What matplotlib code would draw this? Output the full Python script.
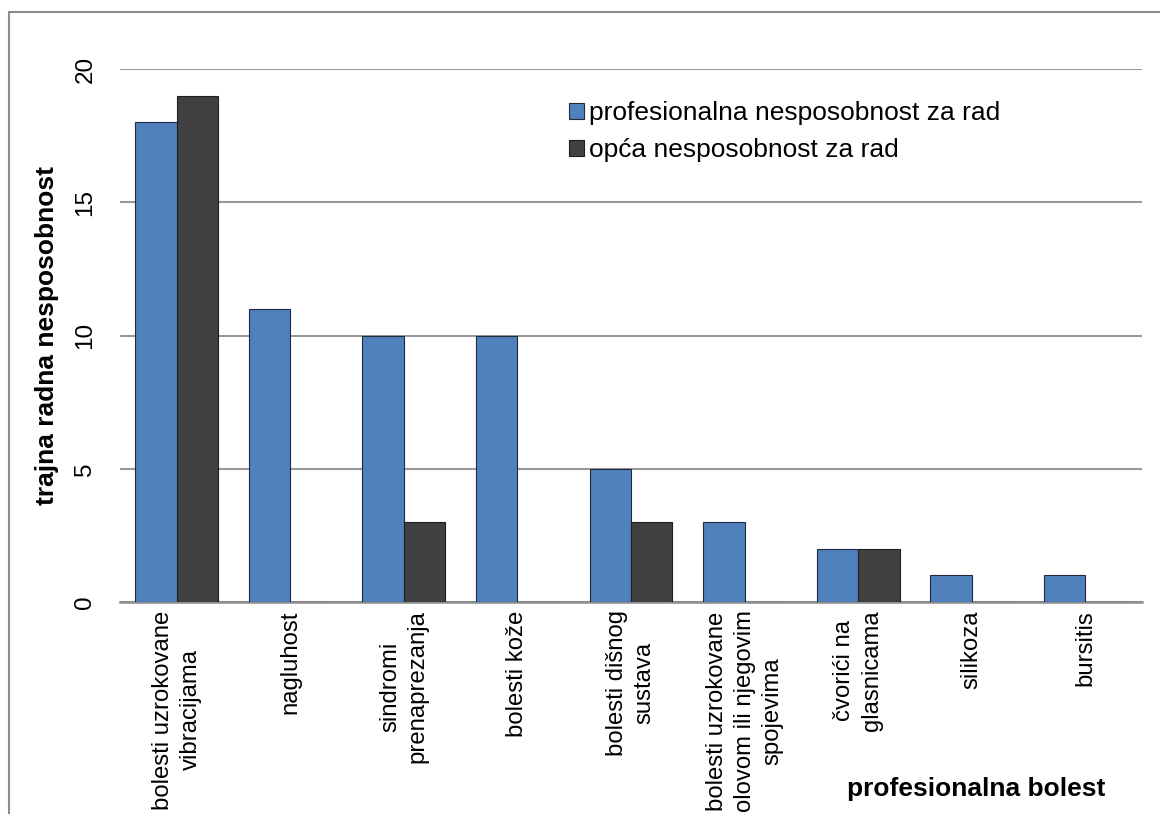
import matplotlib.pyplot as plt
import numpy as np
from matplotlib.patches import Rectangle

plt.rcParams['font.family'] = ['Liberation Sans', 'DejaVu Sans']

categories = ['bolesti uzrokovane\nvibracijama', 'nagluhost', 'sindromi\nprenaprezanja',
              'bolesti kože', 'bolesti dišnog\nsustava',
              'bolesti uzrokovane\nolovom ili njegovim\nspojevima',
              'čvorići na\nglasnicama', 'silikoza', 'bursitis']
profesionalna = [18, 11, 10, 10, 5, 3, 2, 1, 1]
opca = [19, 0, 3, 0, 3, 0, 2, 0, 0]
yticks = [0, 5, 10, 15, 20]

fig = plt.figure(figsize=(11.6, 8.14), dpi=100)
ax = fig.add_axes([120 / 1160, 1 - 602 / 814, (1142 - 120) / 1160, (602 - 69) / 814])

x = np.arange(len(categories))
w = 0.365
ax.bar(x - w / 2, profesionalna, w, color='#4F81BD', edgecolor='#1f2a3a', linewidth=0.8,
       label='profesionalna nesposobnost za rad', zorder=3)
ax.bar(x + w / 2, opca, w, color='#404040', edgecolor='#1f1f1f', linewidth=0.8,
       label='opća nesposobnost za rad', zorder=3)

ax.set_xlim(-0.5, len(categories) - 0.5)
ax.set_ylim(0, 20)
ax.set_yticks(yticks)
ax.set_yticklabels([str(t) for t in yticks], rotation=90, va='center', fontsize=17.5)
ax.set_xticks(x)
ax.set_xticklabels(categories, rotation=90, ha='center', va='top', ma='center',
                   fontsize=17.2, linespacing=1.32)
ax.tick_params(length=0)
ax.tick_params(axis='y', pad=17)
ax.tick_params(axis='x', pad=6)
ax.yaxis.grid(True, color='#999999', linewidth=1.5, zorder=0)
for s in ['top', 'right', 'left']:
    ax.spines[s].set_visible(False)
ax.spines['bottom'].set_color('#8c8c8c')
ax.spines['bottom'].set_linewidth(1.8)

ax.set_ylabel('trajna radna nesposobnost', fontsize=19, fontweight='bold')
ax.yaxis.set_label_coords(-(120 - 47) / 1022, 0.5)
ax.yaxis.label.set_va('center')

leg = ax.legend(loc='upper left', bbox_to_anchor=(569 / 1160, 1 - 101 / 814),
                bbox_transform=fig.transFigure, frameon=False, fontsize=19,
                handlelength=0.57, handleheight=0.57, handletextpad=0.2,
                labelspacing=0.5, borderaxespad=0, borderpad=0)

fig.text(976 / 1160, 1 - 789 / 814, 'profesionalna bolest', fontsize=19,
         fontweight='bold', ha='center', va='center')

fig.patches.append(Rectangle((9 / 1160, -0.1), 1.2, 1 - 12 / 814 + 0.1,
                             transform=fig.transFigure, fill=False,
                             edgecolor='#8c8c8c', linewidth=1.5, clip_on=False))

fig.savefig('out.png', dpi=100)
